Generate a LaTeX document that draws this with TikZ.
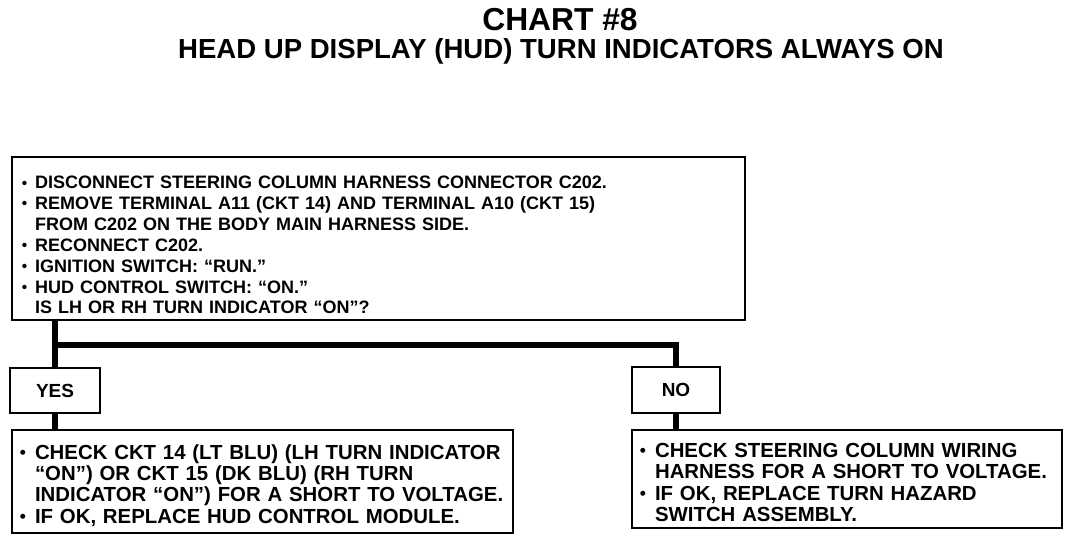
\documentclass[tikz,border=0pt]{standalone}
\usepackage{fontspec}
\setmainfont{Liberation Sans}
\newcommand{\itm}{\makebox[0.74em][l]{\raisebox{0.1ex}{\scalebox{0.85}{\textbullet}}}}
\newcommand{\hang}{\hspace*{0.74em}}

\begin{document}
\begin{tikzpicture}[x=0.025cm, y=-0.025cm,
  box/.style={draw, line width=1.6pt, inner xsep=0.25cm, inner ysep=0pt, align=left},
  ans/.style={draw, line width=1.6pt, align=center, font=\fontsize{13.5}{15}\selectfont\bfseries},
  wire/.style={line width=3.6pt},
]
\useasboundingbox (0,0) rectangle (1072,540);

\node[font=\fontsize{22.6}{26}\selectfont\bfseries] (title) at (560,20) {CHART \#8};
\node[font=\fontsize{19.6}{22}\selectfont\bfseries] (subtitle) at (561,51) {HEAD UP DISPLAY (HUD) TURN INDICATORS ALWAYS ON};

% question
\node[box, font=\fontsize{12.8}{14.8}\selectfont\bfseries, text width=17.825cm, minimum height=4.075cm] (chk) at (378.5,238.5)
  {\rule{0pt}{18.5pt}\itm DISCONNECT STEERING COLUMN HARNESS CONNECTOR C202.\\
   \itm REMOVE TERMINAL A11 (CKT 14) AND TERMINAL A10 (CKT 15)\\
   \hang FROM C202 ON THE BODY MAIN HARNESS SIDE.\\
   \itm RECONNECT C202.\\
   \itm IGNITION SWITCH: ``RUN.''\\
   \itm HUD CONTROL SWITCH: ``ON.''\\
   \hang IS LH OR RH TURN INDICATOR ``ON''?};

\node[ans, minimum width=2.25cm, minimum height=1.125cm] (yes) at (55,390.5) {YES};
\node[ans, minimum width=2.2cm, minimum height=1.15cm] (no) at (676,390) {NO};

% actions
\node[box, font=\fontsize{14.5}{15.2}\selectfont\bfseries, text width=12.125cm, inner xsep=0.2cm, minimum height=2.575cm] (yesact) at (262.5,481.5)
  {\rule{0pt}{16pt}\itm CHECK CKT 14 (LT BLU) (LH TURN INDICATOR\\
   \hang ``ON'') OR CKT 15 (DK BLU) (RH TURN\\
   \hang INDICATOR ``ON'') FOR A SHORT TO VOLTAGE.\\
   \itm IF OK, REPLACE HUD CONTROL MODULE.};
\node[box, font=\fontsize{14.5}{15.2}\selectfont\bfseries, text width=10.35cm, inner xsep=0.2cm, minimum height=2.45cm] (noact) at (847,479)
  {\rule{0pt}{15pt}\itm CHECK STEERING COLUMN WIRING\\
   \hang HARNESS FOR A SHORT TO VOLTAGE.\\
   \itm IF OK, REPLACE TURN HAZARD\\
   \hang SWITCH ASSEMBLY.};

\coordinate (split) at (yes.north |- 0,345);
\draw[wire] (chk.south -| yes.north) -- (yes.north);
\draw[wire] (split) -| (no.north);
\draw[wire] (yes.south) -- (yes.south |- yesact.north);
\draw[wire] (no.south) -- (no.south |- noact.north);
\end{tikzpicture}
\end{document}
